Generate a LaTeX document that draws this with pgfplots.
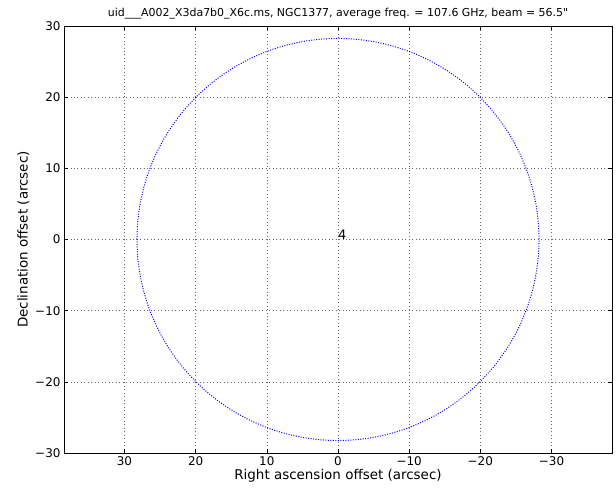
\documentclass[border=0pt]{standalone}
\usepackage{pgfplots}
\pgfplotsset{compat=1.18}
\usepackage{fontspec}
\setmainfont{DejaVu Sans}
\newfontfamily\nomapfont{DejaVu Sans}[Ligatures=ResetAll]
\begin{document}
\begin{tikzpicture}
\begin{axis}[
  name=ax,
  scale only axis,
  width=548bp, height=427bp,
  xmin=-38.5, xmax=38.5, ymin=-30, ymax=30,
  x dir=reverse,
  xtick={-30,-20,-10,0,10,20,30},
  xticklabels={−30,−20,−10,0,10,20,30},
  ytick={-30,-20,-10,0,10,20,30},
  yticklabels={−30,−20,−10,0,10,20,30},
  tick align=inside,
  tick pos=both,
  major tick length=4bp,
  tick style={black, line width=0.5pt},
  ticklabel style={font=\fontsize{12}{14}\selectfont},
  grid=major,
  major grid style={black!60, line width=0.5pt, dash pattern=on 1pt off 2.5pt},
  axis line style={black, line width=0.9pt},
  xlabel={Right ascension offset (arcsec)},
  ylabel={Declination offset (arcsec)},
  label style={font=\fontsize{13.5}{15}\selectfont},
  xlabel style={yshift=3bp},
  ylabel style={yshift=-1bp},
  title={uid\_\_\_A002\_X3da7b0\_X6c.ms, NGC1377, average freq. = 107.6 GHz, beam = 56.5{\nomapfont\char34}},
  title style={font=\fontsize{11}{12}\selectfont, yshift=-3bp},
]
\addplot[blue, line width=1pt, dash pattern=on 1pt off 1.5pt, smooth] coordinates {
(28.25,0)(28.142,2.462)(27.821,4.906)(27.288,7.312)(26.546,9.662)(25.603,11.939)(24.465,14.125)(23.141,16.204)(21.641,18.159)(19.976,19.976)(18.159,21.641)(16.204,23.141)(14.125,24.465)(11.939,25.603)(9.662,26.546)(7.312,27.288)(4.906,27.821)(2.462,28.142)(0,28.25)
(-2.462,28.142)(-4.906,27.821)(-7.312,27.288)(-9.662,26.546)(-11.939,25.603)(-14.125,24.465)(-16.204,23.141)(-18.159,21.641)(-19.976,19.976)(-21.641,18.159)(-23.141,16.204)(-24.465,14.125)(-25.603,11.939)(-26.546,9.662)(-27.288,7.312)(-27.821,4.906)(-28.142,2.462)(-28.25,0)
(-28.142,-2.462)(-27.821,-4.906)(-27.288,-7.312)(-26.546,-9.662)(-25.603,-11.939)(-24.465,-14.125)(-23.141,-16.204)(-21.641,-18.159)(-19.976,-19.976)(-18.159,-21.641)(-16.204,-23.141)(-14.125,-24.465)(-11.939,-25.603)(-9.662,-26.546)(-7.312,-27.288)(-4.906,-27.821)(-2.462,-28.142)(0,-28.25)
(2.462,-28.142)(4.906,-27.821)(7.312,-27.288)(9.662,-26.546)(11.939,-25.603)(14.125,-24.465)(16.204,-23.141)(18.159,-21.641)(19.976,-19.976)(21.641,-18.159)(23.141,-16.204)(24.465,-14.125)(25.603,-11.939)(26.546,-9.662)(27.288,-7.312)(27.821,-4.906)(28.142,-2.462)(28.25,0)
};
\node[anchor=base west, inner sep=0pt, font=\fontsize{13}{14}\selectfont] at (axis cs:0,0) {4};
\end{axis}
\pgfresetboundingbox
\path ([xshift=-64bp,yshift=-38bp]ax.south west) rectangle ([xshift=4bp,yshift=26bp]ax.north east);
\end{tikzpicture}
\end{document}
